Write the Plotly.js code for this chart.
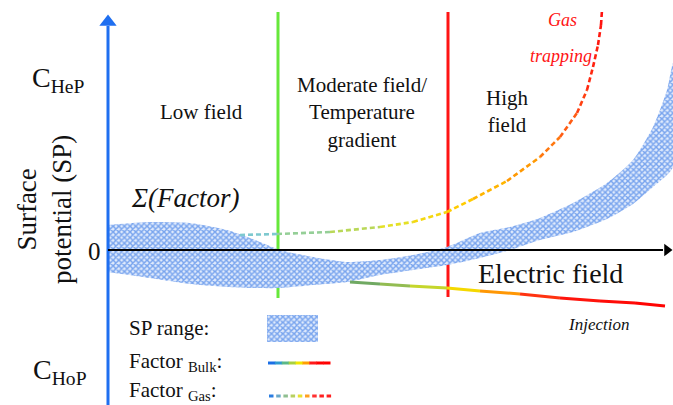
<!DOCTYPE html>
<html>
<head>
<meta charset="utf-8">
<script src="https://cdn.plot.ly/plotly-3.0.1.min.js"></script>
<style>html,body{margin:0;padding:0;background:#fff;}#chart{width:673px;height:405px;}</style>
</head>
<body>
<div id="chart"></div>
<script>
// ---- data (schematic units: x = electric field, y = surface potential) ----
var bandX     = [0, 42, 82, 119, 142, 172, 205, 239, 272, 305, 339, 372, 402, 432, 465, 499, 525, 545, 559, 565];
var bandUpper = [25, 28, 27, 20, 12, 0, -7, -12, -10, -5, 3, 17, 23, 32, 47, 67, 90, 123, 160, 187];
var bandLower = [-22, -28, -34, -37, -38, -38, -35, -32, -25, -20, -15, -8, 0, 10, 18, 31, 46, 63, 75, 83];

var gasX = [132, 169, 222, 272, 305, 339, 365, 399, 432, 452, 469, 479, 485, 490, 493, 494];
var gasY = [15, 16, 18, 23, 28, 38, 51, 69, 93, 113, 137, 160, 183, 205, 225, 240];

var bulkX = [242, 272, 302, 339, 372, 412, 452, 492, 527, 557];
var bulkY = [-32, -34, -36, -38, -41, -44, -48, -51, -53, -56];

var boundaryModerate = 170;   // low / moderate field boundary
var boundaryHigh = 340;       // moderate / high field boundary
var yTop = 238, yBottom = -155, xEnd = 565;

var regionLabels = ['Low field', 'Moderate field/<br>Temperature<br>gradient', 'High<br>field'];
var levelLabels = ['C<sub>HeP</sub>', 'C<sub>HoP</sub>', '0'];

// ---- styles ----
var BLUE = '#1f6ff0', GREEN = '#66e83a', RED = '#ff1414';
var gasStops = [[0, '#74c6e6'], [0.2, '#a6d46e'], [0.33, '#e6e024'], [0.45, '#ffd000'], [0.6, '#ffa000'], [0.72, '#ff6a14'], [0.85, '#ff2a10'], [1, '#ff1010']];
var bulkStops = [[0, '#5f9f6a'], [0.2, '#a8c848'], [0.32, '#f0ea00'], [0.45, '#ffb000'], [0.55, '#ff5010'], [0.65, '#ff1a10'], [1, '#ff0000']];
var legendBulkColors = ['#1a6fe6', '#2f9ad0', '#5bb888', '#a8d040', '#f0e800', '#ffa000', '#ff1a1a', '#ff0000', '#ff0000'];
var legendGasColors = ['#2a7de1', '#6aa8c8', '#8fbf90', '#b8d060', '#e8e030', '#ffa020', '#ff3030', '#ff2020', '#ff2020'];
var pattern = {shape: 'x', size: 4, solidity: 0.6, fgcolor: '#78a4ee', bgcolor: '#dfeafc', fgopacity: 1};
var SERIF = 'Liberation Serif';

function hex2rgb(h) { return [parseInt(h.substr(1, 2), 16), parseInt(h.substr(3, 2), 16), parseInt(h.substr(5, 2), 16)]; }
function colorAt(stops, t) {
  for (var i = 1; i < stops.length; i++) {
    if (t <= stops[i][0]) {
      var a = stops[i - 1], b = stops[i];
      var f = (t - a[0]) / (b[0] - a[0] || 1);
      var ca = hex2rgb(a[1]), cb = hex2rgb(b[1]);
      return 'rgb(' + [0, 1, 2].map(function (k) { return Math.round(ca[k] + (cb[k] - ca[k]) * f); }).join(',') + ')';
    }
  }
  return stops[stops.length - 1][1];
}
function gradientTraces(xs, ys, stops, width, dash) {
  var L = [0];
  for (var i = 1; i < xs.length; i++) L.push(L[i - 1] + Math.hypot(xs[i] - xs[i - 1], ys[i] - ys[i - 1]));
  var total = L[L.length - 1], out = [];
  for (var j = 0; j < xs.length - 1; j++) {
    out.push({x: [xs[j], xs[j + 1]], y: [ys[j], ys[j + 1]], mode: 'lines', hoverinfo: 'skip',
      line: {color: colorAt(stops, (L[j] + L[j + 1]) / 2 / total), width: width, dash: dash || 'solid'}});
  }
  return out;
}

var traces = [];
// SP range band
traces.push({
  x: bandX.concat(bandX.slice().reverse()),
  y: bandUpper.concat(bandLower.slice().reverse()),
  mode: 'lines', fill: 'toself', line: {width: 0, shape: 'spline', smoothing: 0.6},
  fillcolor: '#dfeafc', fillpattern: pattern, hoverinfo: 'skip'
});
// Factor gas (dashed gradient), Factor bulk (solid gradient)
traces = traces.concat(gradientTraces(gasX, gasY, gasStops, 2.6, '5px,3px'));
traces = traces.concat(gradientTraces(bulkX, bulkY, bulkStops, 3));
// axis arrow heads
traces.push({x: [0], y: [yTop - 10], mode: 'markers', hoverinfo: 'skip',
  marker: {symbol: 'triangle-up', size: 15, color: BLUE}});
traces.push({x: [xEnd - 6], y: [0], mode: 'markers', hoverinfo: 'skip',
  marker: {symbol: 'triangle-right', size: 11, color: '#000'}});
// legend swatch for SP range
traces.push({x: [159, 210, 210, 159, 159], y: [-65, -65, -92, -92, -65], mode: 'lines', fill: 'toself',
  line: {width: 0}, fillcolor: '#dfeafc', fillpattern: pattern, hoverinfo: 'skip'});

var shapes = [
  {type: 'line', layer: 'below', x0: boundaryModerate, x1: boundaryModerate, y0: -48, y1: yTop, line: {color: GREEN, width: 3}},
  {type: 'line', layer: 'below', x0: boundaryHigh, x1: boundaryHigh, y0: -47, y1: yTop, line: {color: RED, width: 3}},
  {type: 'line', layer: 'above', x0: 0, x1: 0, y0: yBottom, y1: yTop - 14, line: {color: BLUE, width: 3}},
  {type: 'line', layer: 'above', x0: 0, x1: xEnd - 10, y0: 0, y1: 0, line: {color: '#000', width: 1.8}}
];
// legend samples
var n = legendBulkColors.length;
for (var i = 0; i < n; i++) {
  shapes.push({type: 'line', x0: 160 + 62 * i / n, x1: 160 + 62 * (i + 1) / n + 0.5, y0: -113, y1: -113,
    line: {color: legendBulkColors[i], width: 3}});
}
for (var k = 0; k < legendGasColors.length; k++) {
  shapes.push({type: 'line', x0: 161 + 7.2 * k, x1: 161 + 7.2 * k + 4.5, y0: -146, y1: -146,
    line: {color: legendGasColors[k], width: 3}});
}

function ann(x, y, text, size, opts) {
  var a = {x: x, y: y, text: text, showarrow: false, font: {family: SERIF, size: size, color: '#111'}, xref: 'x', yref: 'y'};
  for (var key in (opts || {})) a[key] = opts[key];
  return a;
}
var annotations = [
  ann(-50, 171, levelLabels[0], 28),
  ann(-48, -121, levelLabels[1], 28),
  ann(-14, -1, levelLabels[2], 25),
  ann(-64, 40, 'Surface<br>potential (SP)', 27, {textangle: -90}),
  ann(93, 138, regionLabels[0], 21),
  ann(254, 138, regionLabels[1], 21),
  ann(399, 139, regionLabels[2], 21),
  ann(77, 52, '<i>Σ(Factor)</i>', 27),
  ann(442, -23, 'Electric field', 28),
  ann(454, 230, '<i>Gas</i>', 18, {font: {family: SERIF, size: 18, color: RED}}),
  ann(453, 194, '<i>trapping</i>', 18, {font: {family: SERIF, size: 18, color: RED}}),
  ann(490, -74, '<i>Injection</i>', 17),
  ann(19, -78, 'SP range:', 21, {xanchor: 'left'}),
  ann(19, -112, 'Factor <sub>Bulk</sub>:', 21, {xanchor: 'left'}),
  ann(19, -141, 'Factor <sub>Gas</sub>:', 21, {xanchor: 'left'})
];

var layout = {
  width: 673, height: 405, margin: {l: 0, r: 0, t: 0, b: 0},
  paper_bgcolor: '#fff', plot_bgcolor: '#fff', showlegend: false,
  xaxis: {range: [-108, 565], visible: false, fixedrange: true},
  yaxis: {range: [-155, 250], visible: false, fixedrange: true},
  shapes: shapes, annotations: annotations
};
Plotly.newPlot('chart', traces, layout, {displayModeBar: false, staticPlot: true});
</script>
</body>
</html>
